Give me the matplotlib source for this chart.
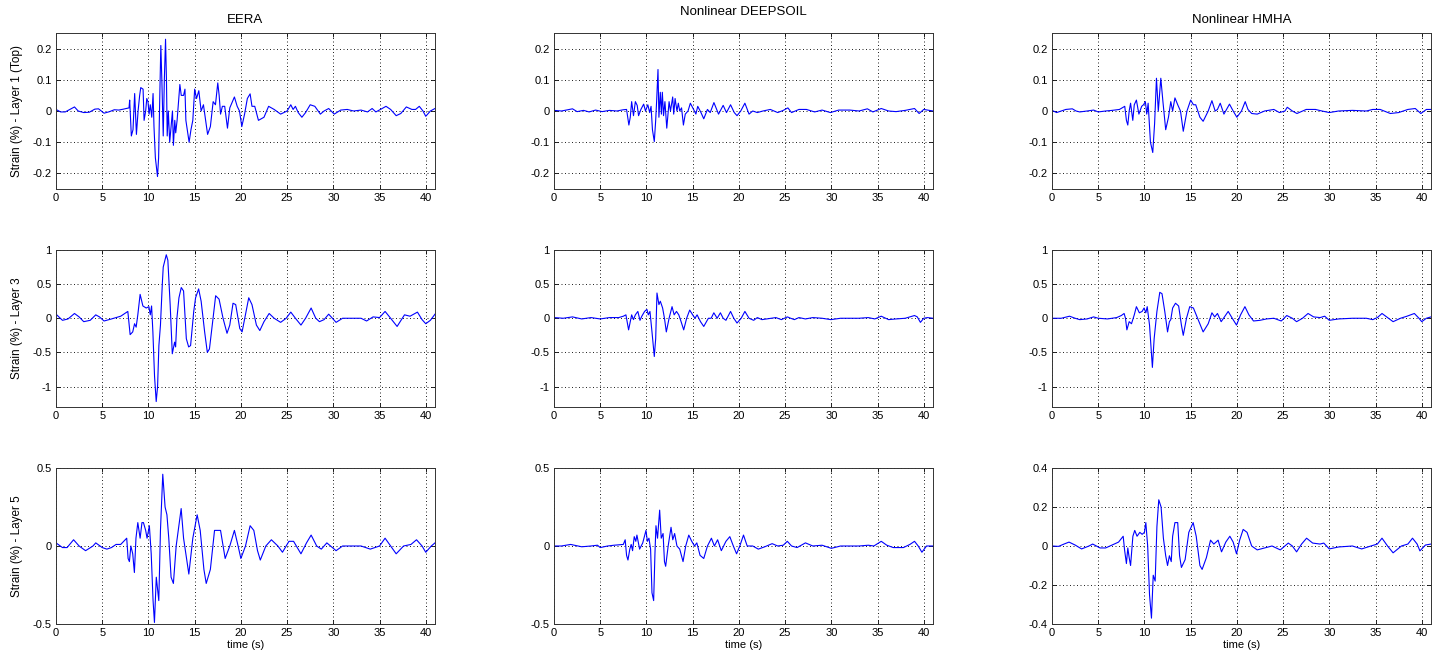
import numpy as np
import matplotlib
matplotlib.use("Agg")
import matplotlib.pyplot as plt
from matplotlib.ticker import FormatStrFormatter

plt.rcParams['font.family'] = ['Liberation Sans', 'DejaVu Sans']
plt.rcParams['axes.unicode_minus'] = False

# (time s, strain %) points
eera_l1 = [(0, 0.005), (0.5, -0.003), (1.0, -0.003), (1.5, 0.005), (2.0, 0.013), (2.4, 0.0), (3.0, -0.005),
           (3.6, -0.004), (4.2, 0.006), (4.6, 0.007), (5.2, -0.007), (5.8, -0.002), (6.3, 0.004), (6.8, 0.003),
           (7.3, 0.006), (7.9, 0.01), (7.97, 0.035), (8.15, -0.08), (8.33, -0.06), (8.51, 0.056), (8.7, -0.075),
           (8.88, 0.0), (9.05, 0.05), (9.17, 0.075), (9.42, 0.07), (9.53, -0.03), (9.7, 0.0), (9.82, 0.04),
           (9.95, 0.03), (10.07, -0.01), (10.2, 0.02), (10.36, -0.02), (10.5, 0.056), (10.6, -0.05),
           (10.75, -0.15), (10.98, -0.21), (11.1, -0.15), (11.23, 0.05), (11.34, 0.21), (11.45, 0.1),
           (11.6, -0.08), (11.72, 0.1), (11.85, 0.23), (11.95, 0.1), (12.03, -0.08), (12.15, 0.0), (12.3, -0.1),
           (12.45, -0.05), (12.6, 0.0), (12.7, -0.11), (12.85, -0.03), (12.95, -0.07), (13.1, -0.03),
           (13.4, 0.085), (13.55, 0.05), (13.8, 0.05), (13.95, 0.07), (14.05, -0.03), (14.4, -0.1),
           (14.6, -0.06), (14.8, -0.03), (15.0, 0.07), (15.2, 0.04), (15.45, 0.065), (15.7, 0.0), (15.95, 0.02),
           (16.4, -0.075), (16.7, -0.05), (17.0, 0.03), (17.25, 0.02), (17.5, 0.09), (17.65, 0.05),
           (17.8, -0.01), (18.0, 0.015), (18.25, 0.015), (18.55, -0.055), (18.8, 0.01), (19.3, 0.045),
           (19.6, 0.015), (19.85, 0.0), (20.1, -0.05), (20.4, -0.01), (20.7, 0.04), (21.0, 0.055),
           (21.2, 0.015), (21.5, 0.015), (21.9, -0.03), (22.5, -0.02), (23.0, 0.015), (23.6, 0.005),
           (24.3, -0.01), (25.0, 0.0), (25.4, 0.02), (25.65, 0.005), (25.9, 0.015), (26.2, -0.005),
           (26.6, -0.02), (27.0, -0.005), (27.5, 0.02), (28.0, 0.015), (28.6, -0.01), (29.0, 0.0),
           (29.5, 0.008), (30.1, -0.01), (30.8, 0.003), (31.5, 0.005), (32.2, 0.0), (33.0, 0.003),
           (33.7, -0.003), (34.2, 0.008), (34.6, -0.003), (35.1, 0.005), (35.7, 0.015), (36.2, 0.005),
           (36.8, -0.015), (37.3, -0.008), (37.9, 0.013), (38.5, 0.005), (38.9, 0.005), (39.3, 0.015),
           (39.7, 0.0), (40.0, -0.017), (40.5, 0.0), (41.0, 0.008)]

deepsoil_l1 = [(0, 0.002), (0.8, 0.0), (1.5, 0.004), (2.0, 0.007), (2.5, -0.002), (3.2, 0.002), (3.8, -0.003),
               (4.5, 0.003), (5.2, -0.002), (6.0, 0.002), (6.8, 0.0), (7.5, 0.004), (7.85, 0.005), (8.1, -0.045),
               (8.25, -0.02), (8.4, 0.03), (8.6, -0.015), (8.8, 0.03), (9.0, 0.018), (9.15, -0.015), (9.4, 0.005),
               (9.7, 0.022), (9.9, 0.0), (10.15, 0.02), (10.35, -0.005), (10.5, 0.015), (10.65, -0.06),
               (10.85, -0.098), (11.0, -0.03), (11.1, 0.03), (11.25, 0.133), (11.35, -0.02), (11.5, 0.06),
               (11.62, -0.01), (11.72, 0.06), (11.85, -0.015), (12.0, 0.03), (12.2, -0.055), (12.45, 0.03),
               (12.6, 0.0), (12.84, 0.045), (12.95, -0.01), (13.1, 0.04), (13.3, 0.0), (13.45, 0.025),
               (13.6, 0.0), (13.8, 0.01), (14.0, -0.045), (14.2, -0.01), (14.5, 0.0), (14.75, 0.025),
               (15.1, 0.005), (15.35, -0.01), (15.55, 0.015), (15.9, -0.005), (16.2, -0.025), (16.6, 0.005),
               (16.9, -0.005), (17.3, 0.027), (17.8, -0.01), (18.3, 0.018), (18.66, -0.005), (19.1, 0.02),
               (19.5, -0.005), (19.8, -0.015), (20.2, 0.0), (20.65, 0.025), (21.1, -0.01), (21.5, 0.0),
               (22.0, -0.005), (22.6, 0.0), (23.4, 0.005), (24.2, -0.005), (24.8, 0.002), (25.3, 0.01),
               (25.7, -0.005), (26.5, 0.005), (27.3, 0.005), (28.2, -0.003), (29.0, 0.003), (29.9, -0.005),
               (30.8, 0.003), (32.0, 0.003), (33.0, 0.0), (33.9, 0.007), (34.5, -0.003), (35.4, 0.008),
               (36.2, 0.0), (37.0, -0.002), (38.0, 0.002), (39.0, 0.008), (39.5, -0.008), (40.0, 0.005),
               (40.6, 0.002), (41.0, 0.0)]

hmha_l1 = [(0, 0.002), (0.5, -0.005), (1.0, 0.0), (1.5, 0.005), (2.2, 0.007), (2.6, 0.0), (3.0, -0.003),
           (3.8, 0.0), (4.5, 0.003), (5.0, -0.003), (5.8, 0.0), (6.5, 0.002), (7.3, 0.005), (7.87, 0.015),
           (8.05, -0.03), (8.2, -0.045), (8.35, 0.0), (8.5, 0.025), (8.74, -0.03), (8.9, 0.02), (9.13, 0.035),
           (9.4, -0.01), (9.7, 0.015), (9.9, 0.02), (10.1, 0.03), (10.25, -0.01), (10.4, 0.025), (10.65, -0.1),
           (10.9, -0.133), (11.1, -0.04), (11.3, 0.105), (11.5, 0.0), (11.77, 0.105), (12.0, 0.03),
           (12.3, -0.06), (12.6, -0.02), (12.85, 0.03), (13.05, 0.0), (13.3, 0.042), (13.6, 0.02), (13.9, 0.0),
           (14.2, -0.065), (14.6, 0.0), (15.0, 0.035), (15.3, 0.02), (15.55, 0.02), (16.0, -0.02),
           (16.35, -0.033), (16.9, 0.0), (17.3, 0.033), (17.65, 0.0), (17.9, 0.005), (18.2, 0.025),
           (18.6, -0.01), (19.2, 0.022), (19.6, 0.0), (20.0, -0.02), (20.5, 0.0), (20.9, 0.03), (21.2, 0.005),
           (21.6, -0.008), (22.2, -0.01), (23.0, 0.0), (24.0, 0.005), (24.6, -0.005), (25.2, 0.0),
           (25.45, 0.012), (26.0, 0.0), (26.5, -0.008), (27.5, 0.005), (28.5, 0.005), (29.2, 0.0),
           (30.0, -0.005), (31.0, 0.0), (32.5, 0.002), (34.0, 0.0), (34.7, 0.005), (35.5, 0.005),
           (36.6, -0.008), (37.5, -0.005), (38.5, 0.005), (39.3, 0.008), (39.9, -0.008), (40.5, 0.005),
           (41.0, 0.005)]

eera_l3 = [(0, 0.06), (0.7, -0.03), (1.3, -0.01), (2.0, 0.07), (2.5, 0.02), (3.0, -0.05), (3.7, -0.03),
           (4.3, 0.05), (4.7, 0.02), (5.2, -0.04), (6.0, -0.01), (7.0, 0.03), (7.77, 0.1), (8.02, -0.24),
           (8.3, -0.2), (8.5, -0.08), (8.67, -0.13), (8.85, 0.05), (9.1, 0.35), (9.4, 0.18), (9.76, 0.15),
           (10.05, 0.17), (10.2, 0.05), (10.34, 0.18), (10.48, -0.2), (10.66, -0.85), (10.84, -1.22),
           (10.99, -1.0), (11.13, -0.4), (11.3, -0.1), (11.5, 0.5), (11.6, 0.75), (11.93, 0.93), (12.1, 0.85),
           (12.35, 0.2), (12.58, -0.52), (12.83, -0.35), (12.94, -0.42), (13.08, 0.0), (13.3, 0.3),
           (13.55, 0.45), (13.8, 0.4), (14.1, -0.3), (14.35, -0.42), (14.56, -0.4), (14.9, 0.1), (15.1, 0.3),
           (15.43, 0.43), (15.7, 0.25), (16.08, -0.2), (16.37, -0.5), (16.6, -0.45), (16.99, 0.0),
           (17.27, 0.33), (17.64, 0.28), (18.07, 0.0), (18.5, -0.22), (18.8, -0.1), (19.15, 0.22),
           (19.44, 0.2), (19.88, -0.15), (20.13, -0.2), (20.42, 0.0), (20.85, 0.3), (21.2, 0.2),
           (21.68, -0.1), (22.05, -0.18), (22.5, -0.05), (23.06, 0.07), (23.6, 0.0), (24.3, -0.06),
           (24.9, 0.0), (25.4, 0.09), (25.9, 0.0), (26.5, -0.1), (27.0, 0.0), (27.6, 0.15), (28.1, 0.0),
           (28.5, -0.05), (29.0, -0.02), (29.5, 0.06), (30.3, -0.06), (31.0, 0.0), (32.0, 0.0), (33.0, 0.0),
           (33.6, -0.04), (34.3, 0.02), (35.0, 0.01), (35.6, 0.1), (36.2, 0.0), (36.9, -0.12), (37.7, 0.05),
           (38.3, 0.03), (39.1, 0.09), (39.6, -0.02), (40.0, -0.08), (40.5, -0.03), (41.0, 0.06)]

deepsoil_l3 = [(0, 0.01), (1.0, 0.0), (2.0, 0.02), (3.0, -0.01), (4.0, 0.01), (5.0, -0.01), (6.0, 0.01),
               (7.0, 0.01), (7.5, 0.03), (7.78, 0.05), (8.07, -0.17), (8.25, -0.05), (8.4, 0.05), (8.6, -0.02),
               (8.8, 0.05), (9.07, 0.1), (9.3, -0.03), (9.5, 0.03), (9.8, 0.1), (10.05, 0.13), (10.2, 0.05),
               (10.38, 0.1), (10.6, -0.2), (10.85, -0.56), (11.0, -0.3), (11.14, 0.37), (11.35, 0.2),
               (11.5, 0.25), (11.75, 0.15), (11.95, 0.0), (12.15, -0.2), (12.45, 0.0), (12.77, 0.17),
               (13.0, 0.05), (13.25, 0.1), (13.5, 0.05), (13.75, -0.05), (14.03, -0.17), (14.35, 0.0),
               (14.68, 0.12), (15.0, 0.05), (15.25, 0.0), (15.48, 0.05), (15.85, -0.05), (16.2, -0.12),
               (16.7, 0.0), (17.0, 0.0), (17.29, 0.08), (17.65, 0.0), (18.0, 0.08), (18.3, 0.0), (18.6, -0.03),
               (19.1, 0.1), (19.45, 0.0), (19.8, -0.07), (20.25, 0.0), (20.65, 0.1), (21.1, 0.0), (21.6, -0.03),
               (22.0, 0.01), (22.5, -0.02), (23.5, 0.0), (24.0, 0.01), (24.6, -0.02), (25.25, 0.02),
               (25.6, 0.0), (26.0, -0.02), (26.5, 0.01), (27.2, -0.01), (28.0, 0.01), (29.0, 0.0),
               (29.95, -0.02), (31.0, 0.0), (33.0, 0.0), (34.0, 0.01), (34.7, -0.01), (35.4, 0.03),
               (36.2, -0.02), (37.0, -0.01), (38.0, 0.0), (39.0, 0.04), (39.3, 0.02), (39.64, -0.06),
               (40.0, 0.0), (40.4, 0.01), (41.0, 0.0)]

hmha_l3 = [(0, 0.0), (1.0, 0.0), (1.9, 0.03), (2.5, 0.0), (3.0, -0.02), (3.8, -0.01), (4.5, 0.02), (5.0, 0.0),
           (6.0, -0.01), (7.0, 0.01), (7.5, 0.04), (7.8, 0.07), (7.95, 0.0), (8.1, -0.17), (8.35, -0.05),
           (8.6, -0.08), (8.9, 0.05), (9.13, 0.17), (9.45, 0.08), (9.75, 0.1), (9.96, 0.15), (10.15, 0.08),
           (10.3, 0.17), (10.55, -0.1), (10.86, -0.72), (11.05, -0.3), (11.2, -0.1), (11.35, 0.1),
           (11.66, 0.38), (11.9, 0.36), (12.2, 0.1), (12.5, -0.2), (12.7, -0.05), (12.85, -0.02),
           (13.05, 0.15), (13.36, 0.22), (13.7, 0.18), (14.0, -0.1), (14.2, -0.25), (14.55, 0.0), (14.9, 0.17),
           (15.3, 0.15), (15.9, -0.05), (16.35, -0.2), (16.9, -0.08), (17.3, 0.08), (17.6, 0.02), (17.9, 0.07),
           (18.3, -0.05), (19.06, 0.1), (19.5, 0.0), (19.96, -0.1), (20.4, 0.05), (20.87, 0.17), (21.3, 0.05),
           (21.8, -0.04), (22.5, -0.03), (23.2, -0.01), (24.0, 0.0), (24.8, -0.04), (25.4, 0.04), (26.0, 0.0),
           (26.46, -0.05), (27.1, 0.0), (27.7, 0.07), (28.3, 0.02), (29.0, 0.01), (29.5, 0.03), (30.0, -0.03),
           (31.0, -0.01), (32.5, 0.0), (34.0, 0.0), (34.7, -0.02), (35.2, 0.01), (35.7, 0.07), (36.4, 0.0),
           (36.9, -0.05), (37.7, 0.0), (38.4, 0.03), (39.2, 0.07), (39.7, 0.0), (40.0, -0.05), (40.5, 0.0),
           (41.0, 0.02)]

eera_l5 = [(0, 0.02), (0.7, -0.01), (1.2, -0.01), (1.9, 0.04), (2.5, 0.0), (3.2, -0.03), (4.0, 0.0),
           (4.3, 0.02), (5.0, -0.01), (5.5, -0.02), (6.0, -0.01), (6.5, 0.01), (7.0, 0.01), (7.65, 0.05),
           (7.8, -0.08), (7.94, -0.1), (8.1, 0.0), (8.3, -0.05), (8.48, -0.17), (8.65, 0.05), (8.85, 0.15),
           (9.1, 0.05), (9.3, 0.15), (9.46, 0.15), (9.7, 0.1), (9.85, 0.05), (10.1, 0.13), (10.3, -0.05),
           (10.5, -0.35), (10.65, -0.49), (10.85, -0.2), (11.12, -0.35), (11.3, 0.1), (11.55, 0.46),
           (11.8, 0.25), (12.0, 0.2), (12.2, 0.05), (12.45, -0.2), (12.7, -0.24), (13.0, 0.0), (13.54, 0.24),
           (13.8, 0.05), (14.37, -0.18), (14.8, 0.05), (15.27, 0.2), (15.6, 0.1), (16.0, -0.15),
           (16.25, -0.24), (16.7, -0.15), (17.15, 0.1), (17.5, 0.1), (17.8, 0.1), (18.3, -0.08), (18.8, 0.0),
           (19.3, 0.1), (19.7, 0.0), (20.0, -0.08), (20.5, 0.0), (21.0, 0.13), (21.4, 0.1), (21.8, -0.03),
           (22.1, -0.09), (22.7, 0.0), (23.3, 0.04), (24.0, 0.0), (24.5, -0.04), (25.2, 0.03), (25.7, 0.03),
           (26.2, -0.02), (26.5, -0.05), (27.1, 0.02), (27.6, 0.07), (28.2, 0.0), (28.7, -0.02), (29.3, 0.02),
           (30.3, -0.03), (31.0, 0.0), (33.0, 0.0), (34.0, -0.02), (35.0, 0.0), (35.6, 0.05), (36.2, 0.0),
           (36.8, -0.05), (37.6, 0.0), (38.4, 0.01), (39.0, 0.04), (39.6, 0.0), (40.0, -0.04), (40.6, 0.0),
           (41.0, 0.02)]

deepsoil_l5 = [(0, 0.0), (0.8, 0.0), (1.8, 0.01), (3.0, -0.005), (4.0, 0.0), (4.7, 0.005), (5.0, -0.01),
               (5.8, 0.0), (6.5, 0.005), (7.5, 0.01), (7.7, 0.04), (7.85, -0.06), (8.0, -0.09), (8.2, -0.02),
               (8.35, 0.01), (8.5, -0.03), (8.68, 0.06), (8.85, 0.03), (8.97, 0.07), (9.26, -0.02), (9.6, 0.02),
               (9.95, 0.1), (10.1, 0.03), (10.27, 0.05), (10.45, -0.02), (10.6, -0.3), (10.78, -0.35),
               (10.92, -0.05), (11.03, 0.13), (11.2, 0.05), (11.43, 0.23), (11.6, 0.05), (11.8, 0.08),
               (11.95, -0.1), (12.08, -0.13), (12.35, 0.0), (12.66, 0.12), (12.85, 0.04), (13.05, 0.08),
               (13.3, 0.0), (13.6, -0.02), (13.96, -0.1), (14.25, 0.0), (14.58, 0.07), (14.9, 0.03), (15.2, 0.0),
               (15.45, 0.02), (15.8, -0.06), (16.2, -0.08), (16.6, 0.0), (17.03, 0.05), (17.35, 0.0),
               (17.7, 0.04), (18.1, -0.03), (18.6, 0.03), (19.02, 0.06), (19.4, 0.0), (19.75, -0.05),
               (20.1, 0.0), (20.5, 0.07), (20.9, 0.0), (21.5, 0.0), (22.1, -0.02), (22.8, -0.005), (23.6, 0.015),
               (24.2, 0.0), (24.8, 0.005), (25.24, 0.03), (25.7, 0.0), (26.3, -0.01), (27.2, 0.02), (28.0, 0.0),
               (29.0, 0.005), (30.0, -0.015), (31.0, 0.0), (33.0, 0.0), (34.0, 0.005), (34.6, 0.0),
               (35.4, 0.03), (36.0, 0.005), (36.7, -0.01), (37.8, -0.01), (38.5, 0.01), (39.0, 0.03),
               (39.4, 0.0), (39.8, -0.04), (40.3, 0.0), (41.0, 0.0)]

hmha_l5 = [(0, 0.0), (0.7, -0.002), (1.3, 0.01), (1.84, 0.02), (2.5, 0.005), (3.2, -0.015), (4.0, 0.0),
           (4.4, 0.01), (5.2, -0.01), (5.8, -0.01), (6.5, 0.005), (7.2, 0.02), (7.7, 0.05), (7.85, -0.02),
           (8.05, -0.09), (8.2, -0.01), (8.35, -0.06), (8.5, -0.1), (8.75, 0.05), (8.95, 0.08), (9.2, 0.05),
           (9.5, 0.07), (9.75, 0.06), (10.0, 0.07), (10.15, 0.12), (10.35, 0.0), (10.55, -0.25),
           (10.76, -0.37), (10.95, -0.15), (11.16, -0.18), (11.35, 0.1), (11.55, 0.237), (11.8, 0.2),
           (12.05, 0.04), (12.3, -0.05), (12.5, -0.1), (12.7, -0.05), (12.9, -0.08), (13.05, 0.05),
           (13.3, 0.12), (13.6, 0.12), (13.8, -0.05), (14.0, -0.11), (14.4, -0.07), (14.8, 0.07),
           (15.27, 0.12), (15.6, 0.05), (16.0, -0.1), (16.24, -0.12), (16.7, -0.06), (17.15, 0.03),
           (17.5, 0.01), (17.75, 0.02), (17.97, 0.03), (18.34, -0.03), (18.8, 0.02), (19.24, 0.05),
           (19.6, 0.02), (19.96, -0.04), (20.3, 0.03), (20.68, 0.085), (21.1, 0.07), (21.6, 0.0),
           (22.2, -0.02), (23.0, -0.01), (23.8, 0.0), (24.7, -0.02), (25.56, 0.015), (26.0, 0.0),
           (26.46, -0.03), (27.0, 0.01), (27.54, 0.04), (28.2, 0.015), (29.0, 0.01), (29.4, 0.015),
           (30.0, -0.015), (31.0, -0.005), (32.5, 0.0), (33.5, -0.015), (34.5, 0.0), (35.2, 0.01),
           (35.7, 0.04), (36.3, 0.0), (36.9, -0.035), (37.8, 0.0), (38.5, 0.01), (39.0, 0.04), (39.5, 0.01),
           (39.8, -0.025), (40.4, 0.005), (41.0, 0.01)]

titles = ['EERA', 'Nonlinear DEEPSOIL', 'Nonlinear HMHA']
ylabels = ['Strain (%) - Layer 1 (Top)', 'Strain (%) - Layer 3', 'Strain (%) - Layer 5']
series = [[eera_l1, deepsoil_l1, hmha_l1],
          [eera_l3, deepsoil_l3, hmha_l3],
          [eera_l5, deepsoil_l5, hmha_l5]]
ylims = [[0.25] * 3, [1.0] * 3, [0.5, 0.5, 0.4]]
yticks = [[[-0.2, -0.1, 0, 0.1, 0.2]] * 3,
          [[-1, -0.5, 0, 0.5, 1]] * 3,
          [[-0.5, 0, 0.5], [-0.5, 0, 0.5], [-0.4, -0.2, 0, 0.2, 0.4]]]
xticks = [0, 5, 10, 15, 20, 25, 30, 35, 40]

W, H = 1443, 656
fig = plt.figure(figsize=(W / 100, H / 100), dpi=100)

col_left = [56, 554, 1052]
col_w = 379
row_top = [33, 250, 468]
row_bot = [189, 407, 624]

for r in range(3):
    for c in range(3):
        x0 = col_left[c] / W
        y0 = 1 - row_bot[r] / H
        h = (row_bot[r] - row_top[r]) / H
        ax = fig.add_axes([x0, y0, col_w / W, h])
        d = np.array(series[r][c])
        ax.plot(d[:, 0], d[:, 1], color='#0000ff', lw=0.8)
        ax.set_xlim(0, 41)
        if r == 1:
            ax.set_ylim(-1.3, 1.0)
        else:
            ax.set_ylim(-ylims[r][c], ylims[r][c])
        ax.set_xticks(xticks)
        ax.set_yticks(yticks[r][c])
        ax.yaxis.set_major_formatter(FormatStrFormatter('%g'))
        ax.grid(True, color='k', linestyle=(0, (1.2, 3)), linewidth=0.6)
        ax.tick_params(direction='in', length=3, width=0.6, top=True, right=True,
                       labelsize=8, pad=3, colors='k')
        for sp in ax.spines.values():
            sp.set_linewidth(0.7)
            sp.set_color('#333333')
        if c == 0:
            ax.set_ylabel(ylabels[r], fontsize=8.5)
            ax.yaxis.set_label_coords(-0.087, 0.5)
        if r == 2:
            ax.set_xlabel('time (s)', fontsize=8, labelpad=1)
        if r == 0:
            ty = 1.135 if c == 1 else 1.083
            ax.text(0.5, ty, titles[c], transform=ax.transAxes, ha='center', va='center', fontsize=9.5)

fig.savefig('out.png', dpi=100)
